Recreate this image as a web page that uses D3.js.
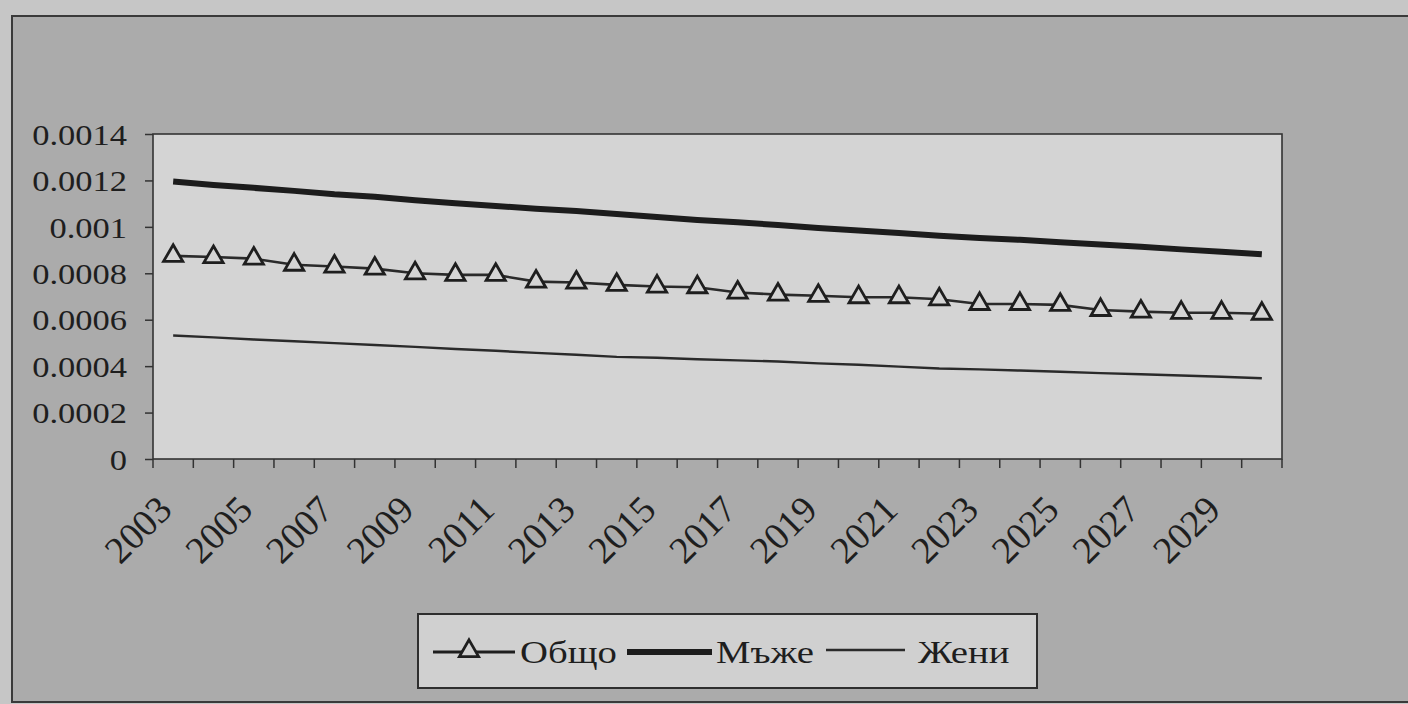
<!DOCTYPE html>
<html lang="bg">
<head>
<meta charset="utf-8">
<title>Общо, мъже, жени</title>
<script src="https://cdn.jsdelivr.net/npm/d3@7"></script>
<style>
  html, body { margin: 0; padding: 0; background: #c6c6c6; }
  svg { display: block; }
  text { font-family: "Liberation Serif", "DejaVu Serif", serif; fill: #1e1e1e; }
</style>
</head>
<body>
<div id="chart"></div>
<script>
// data
var years = ['2003','2004','2005','2006','2007','2008','2009','2010','2011','2012',
             '2013','2014','2015','2016','2017','2018','2019','2020','2021','2022',
             '2023','2024','2025','2026','2027','2028','2029','2030'];

var obshto = [0.000875, 0.00087, 0.000863, 0.000837, 0.000829, 0.00082, 0.0008, 0.000793, 0.000793, 0.000764,
              0.00076, 0.00075, 0.000743, 0.00074, 0.000717, 0.000708, 0.000703, 0.000697, 0.000697, 0.000688,
              0.000668, 0.000668, 0.000664, 0.000642, 0.000635, 0.00063, 0.00063, 0.000626];

var maje = [0.001195, 0.00118, 0.001168, 0.001155, 0.00114, 0.00113, 0.001115, 0.001102, 0.00109, 0.001078,
            0.001068, 0.001055, 0.001042, 0.00103, 0.00102, 0.001008, 0.000995, 0.000984, 0.000974, 0.000962,
            0.000952, 0.000944, 0.000934, 0.000924, 0.000914, 0.000903, 0.000893, 0.000882];

var jeni = [0.000532, 0.000524, 0.000515, 0.000507, 0.000499, 0.000491, 0.000483, 0.000474, 0.000466, 0.000457,
            0.000449, 0.00044, 0.000436, 0.00043, 0.000425, 0.00042, 0.000412, 0.000406, 0.000398, 0.00039,
            0.000386, 0.000381, 0.000376, 0.00037, 0.000365, 0.00036, 0.000354, 0.000348];

var yTicks = [0, 0.0002, 0.0004, 0.0006, 0.0008, 0.001, 0.0012, 0.0014];
var yTickLabels = ['0', '0.0002', '0.0004', '0.0006', '0.0008', '0.001', '0.0012', '0.0014'];

var seriesNames = ['Общо', 'Мъже', 'Жени'];

var W = 1408, H = 704;
var plot = { left: 153, right: 1282, top: 134, bottom: 459 };
var stretch = 1.15; // printed type looks a bit wider than it is tall

var svg = d3.select('#chart').append('svg').attr('width', W).attr('height', H);

// chart area (grey card)
svg.append('rect')
  .attr('x', 12).attr('y', 16).attr('width', 1420).attr('height', 686)
  .attr('fill', '#ababab').attr('stroke', '#3a3a3a').attr('stroke-width', 2);

// plot area
svg.append('rect')
  .attr('x', plot.left).attr('y', plot.top)
  .attr('width', plot.right - plot.left).attr('height', plot.bottom - plot.top)
  .attr('fill', '#d4d4d4').attr('stroke', '#333').attr('stroke-width', 1.6);

var x = d3.scaleBand().domain(years).range([plot.left, plot.right]).padding(0);
var y = d3.scaleLinear().domain([0, 0.0014]).range([plot.bottom, plot.top]);
var cx = function(d) { return x(d) + x.bandwidth() / 2; };

// y axis
var yAxis = d3.axisLeft(y).tickValues(yTicks).tickSize(8)
  .tickFormat(function(d, i) { return yTickLabels[i]; });
var gy = svg.append('g').attr('transform', 'translate(' + plot.left + ',0)').call(yAxis);
gy.select('.domain').remove();
gy.selectAll('line').attr('stroke', '#333').attr('stroke-width', 1.5);
gy.selectAll('text')
  .attr('x', -26 / stretch)
  .attr('transform', 'scale(' + stretch + ',1)')
  .attr('font-size', 30).attr('dy', '0.34em')
  .attr('font-family', '"Liberation Serif", serif').attr('fill', '#1e1e1e');

// x axis: ticks between categories, labels on every second year
var edges = years.map(function(d) { return x(d); }).concat([plot.right]);
svg.append('g').selectAll('line').data(edges).enter().append('line')
  .attr('x1', function(d) { return d; }).attr('x2', function(d) { return d; })
  .attr('y1', plot.bottom).attr('y2', plot.bottom + 9)
  .attr('stroke', '#333').attr('stroke-width', 1.5);

svg.append('g').selectAll('text')
  .data(years.filter(function(d, i) { return i % 2 === 0; }))
  .enter().append('text')
  .attr('transform', function(d) { return 'translate(' + (cx(d) - 18) + ',' + (plot.bottom + 34) + ') rotate(-45)'; })
  .attr('text-anchor', 'end')
  .attr('dy', '0.7em')
  .attr('font-size', 38)
  .text(function(d) { return d; });

// lines
var line = function(vals) {
  return d3.line().x(function(d, i) { return cx(years[i]); }).y(function(d) { return y(d); })(vals);
};

svg.append('path').attr('d', line(maje)).attr('fill', 'none')
  .attr('stroke', '#1c1c1c').attr('stroke-width', 6).attr('stroke-linecap', 'butt');
svg.append('path').attr('d', line(jeni)).attr('fill', 'none')
  .attr('stroke', '#2a2a2a').attr('stroke-width', 2.4);
svg.append('path').attr('d', line(obshto)).attr('fill', 'none')
  .attr('stroke', '#2a2a2a').attr('stroke-width', 2.6);

var tri = d3.symbol().type(d3.symbolTriangle).size(160);
svg.append('g').selectAll('path').data(obshto).enter().append('path')
  .attr('d', tri)
  .attr('transform', function(d, i) { return 'translate(' + cx(years[i]) + ',' + y(d) + ')'; })
  .attr('fill', '#d4d4d4').attr('stroke', '#1e1e1e').attr('stroke-width', 2.8);

// legend
var lg = svg.append('g');
lg.append('rect').attr('x', 418).attr('y', 614).attr('width', 619).attr('height', 74)
  .attr('fill', '#d0d0d0').attr('stroke', '#2e2e2e').attr('stroke-width', 2);

var ly = 652;
lg.append('line').attr('x1', 433).attr('x2', 515).attr('y1', ly).attr('y2', ly)
  .attr('stroke', '#1e1e1e').attr('stroke-width', 3);
lg.append('path').attr('d', tri).attr('transform', 'translate(469,' + (ly - 1) + ')')
  .attr('fill', '#d0d0d0').attr('stroke', '#1e1e1e').attr('stroke-width', 2.8);
lg.append('line').attr('x1', 627).attr('x2', 712).attr('y1', ly).attr('y2', ly)
  .attr('stroke', '#1c1c1c').attr('stroke-width', 6);
lg.append('line').attr('x1', 826).attr('x2', 905).attr('y1', ly - 2).attr('y2', ly - 2)
  .attr('stroke', '#2a2a2a').attr('stroke-width', 2.4);

var legendX = [520, 716, 918];
lg.selectAll('text.lab').data(seriesNames).enter().append('text')
  .attr('class', 'lab')
  .attr('transform', function(d, i) { return 'translate(' + legendX[i] + ',' + (ly + 11) + ') scale(1.25,1)'; })
  .attr('font-size', 31)
  .text(function(d) { return d; });
</script>
</body>
</html>
